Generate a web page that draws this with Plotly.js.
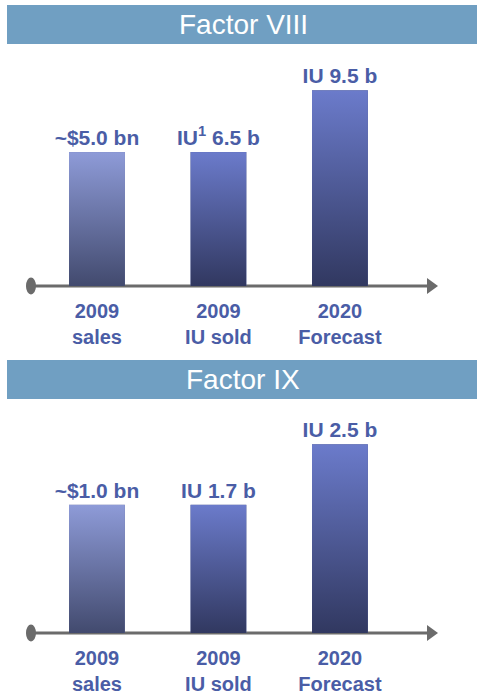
<!DOCTYPE html>
<html>
<head>
<meta charset="utf-8">
<script src="https://cdn.plot.ly/plotly-3.0.1.min.js"></script>
<style>
  html, body { margin: 0; padding: 0; background: #ffffff; }
  #chart { width: 477px; height: 695px; }
</style>
</head>
<body>
<div id="chart"></div>
<script>
// ---- data ----
const categories = ['2009<br>sales', '2009<br>IU sold', '2020<br>Forecast'];
const panelTitles = ['Factor VIII', 'Factor IX'];
const f8Values = [6.5, 6.5, 9.5];
const f8Labels = ['~$5.0 bn', 'IU<sup>1</sup> 6.5 b', 'IU 9.5 b'];
const f9Values = [1.7, 1.7, 2.5];
const f9Labels = ['~$1.0 bn', 'IU 1.7 b', 'IU 2.5 b'];

// ---- styles ----
const W = 477, H = 695;
const FONT = 'Liberation Sans, Arial, Helvetica, sans-serif';
const labelBlue = '#4A5DA6';
const headerBlue = '#709FC2';
const axisGray = '#6B6B6B';
const barTop = ['#8E9BD8', '#6B7BCB', '#6B7BCB'];
const barBottom = ['#424A6E', '#313860', '#313860'];
const barMid = ['#6772A3', '#4E5A95', '#4E5A95'];
const BW = 0.46;
const xRange = [-0.798, 3.128];
const xIdx = categories.map((_, i) => i);

function py(pix) { return (H - pix) / H; }

function gradientURL(top, bottom) {
  const svg = '<svg xmlns="http://www.w3.org/2000/svg" width="10" height="100" preserveAspectRatio="none">' +
    '<defs><linearGradient id="g" x1="0" y1="0" x2="0" y2="1">' +
    '<stop offset="0" stop-color="' + top + '"/>' +
    '<stop offset="1" stop-color="' + bottom + '"/>' +
    '</linearGradient></defs><rect width="10" height="100" fill="url(#g)"/></svg>';
  return 'data:image/svg+xml;charset=utf-8,' + encodeURIComponent(svg);
}

const panels = [
  { values: f8Values, labels: f8Labels, xa: 'x', ya: 'y' },
  { values: f9Values, labels: f9Labels, xa: 'x2', ya: 'y2' }
];

const traces = panels.map(p => ({
  type: 'bar',
  x: xIdx,
  y: p.values,
  xaxis: p.xa,
  yaxis: p.ya,
  width: BW,
  marker: { color: barMid, line: { width: 0 } },
  text: p.labels,
  textposition: 'outside',
  constraintext: 'none',
  cliponaxis: false,
  textfont: { family: FONT, size: 21, color: labelBlue, weight: 'bold' },
  hoverinfo: 'skip',
  showlegend: false
}));

const images = [];
panels.forEach(p => {
  p.values.forEach((v, i) => {
    images.push({
      source: gradientURL(barTop[i], barBottom[i]),
      xref: p.xa, yref: p.ya,
      x: i - BW / 2, y: v,
      sizex: BW, sizey: v,
      xanchor: 'left', yanchor: 'top',
      sizing: 'stretch',
      layer: 'above'
    });
  });
});

const shapes = [];
const annotations = [];
// header bars
[[5, 44], [360, 399]].forEach((hb, k) => {
  shapes.push({
    type: 'rect', xref: 'paper', yref: 'paper',
    x0: 7 / W, x1: 1, y0: py(hb[1]), y1: py(hb[0]),
    fillcolor: headerBlue, line: { width: 0 }, layer: 'below'
  });
  annotations.push({
    xref: 'paper', yref: 'paper',
    x: 243 / W, y: py((hb[0] + hb[1]) / 2),
    xanchor: 'center', yanchor: 'middle',
    text: panelTitles[k], showarrow: false,
    font: { family: FONT, size: 28, color: '#ffffff' }
  });
});
// axis lines with dot and arrow
panels.forEach(p => {
  const xr = p.xa, yr = p.ya;
  shapes.push({
    type: 'line', xref: xr, yref: yr,
    x0: -0.543, x1: 2.76, y0: 0, y1: 0,
    line: { color: axisGray, width: 3 }, layer: 'below'
  });
  shapes.push({
    type: 'circle', xref: xr, yref: yr,
    xsizemode: 'pixel', ysizemode: 'pixel',
    xanchor: -0.543, yanchor: 0,
    x0: -5, x1: 5, y0: -8.5, y1: 8.5,
    fillcolor: axisGray, line: { width: 0 }, layer: 'below'
  });
  shapes.push({
    type: 'path', xref: xr, yref: yr,
    xsizemode: 'pixel', ysizemode: 'pixel',
    xanchor: 2.807, yanchor: 0,
    path: 'M0,0 L-11,8 L-11,-8 Z',
    fillcolor: axisGray, line: { width: 0 }, layer: 'below'
  });
});

const xCommon = {
  range: xRange, showgrid: false, zeroline: false, showline: false,
  ticks: '', tickvals: xIdx, ticktext: categories,
  tickfont: { family: FONT, size: 20, color: labelBlue, weight: 'bold' },
  ticklabelstandoff: 2,
  fixedrange: true
};
const yCommon = {
  showgrid: false, zeroline: false, showline: false, showticklabels: false,
  ticks: '', fixedrange: true
};

const PAD = 9; // pixels of plot area kept below the baseline
const layout = {
  width: W, height: H,
  margin: { l: 0, r: 0, t: 0, b: 0 },
  paper_bgcolor: '#ffffff', plot_bgcolor: 'rgba(0,0,0,0)',
  showlegend: false,
  xaxis: Object.assign({}, xCommon, { anchor: 'y', domain: [0, 1] }),
  xaxis2: Object.assign({}, xCommon, { anchor: 'y2', domain: [0, 1] }),
  yaxis: Object.assign({}, yCommon, { anchor: 'x', domain: [py(286 + PAD), py(50)], range: [-PAD / 20.6, 236 / 20.6] }),
  yaxis2: Object.assign({}, yCommon, { anchor: 'x2', domain: [py(633 + PAD), py(405)], range: [-PAD / 75.5, 228 / 75.5] }),
  shapes: shapes,
  annotations: annotations,
  images: images
};

Plotly.newPlot('chart', traces, layout, { displayModeBar: false, staticPlot: true });
</script>
</body>
</html>
